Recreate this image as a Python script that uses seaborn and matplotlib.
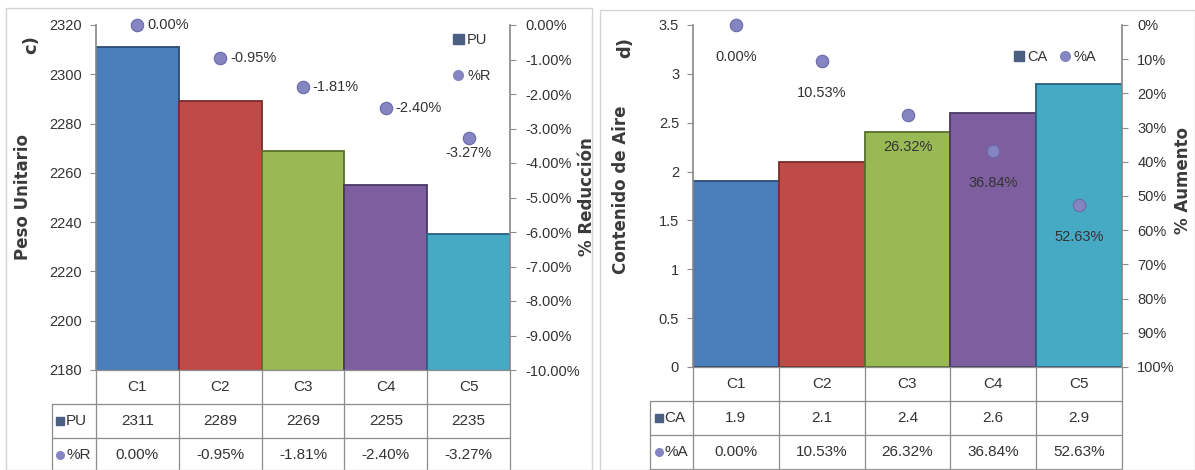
import numpy as np
import matplotlib
matplotlib.use("Agg")
import matplotlib.pyplot as plt
import seaborn as sns
from matplotlib.transforms import blended_transform_factory
from matplotlib.patches import Rectangle, Patch
from matplotlib.lines import Line2D
from matplotlib.ticker import FuncFormatter, MultipleLocator

# ---- data -------------------------------------------------------------
categorias = ["C1", "C2", "C3", "C4", "C5"]
peso_unitario = [2311, 2289, 2269, 2255, 2235]          # PU
reduccion = [0.00, -0.95, -1.81, -2.40, -3.27]          # %R
contenido_aire = [1.9, 2.1, 2.4, 2.6, 2.9]              # CA
aumento = [0.00, 10.53, 26.32, 36.84, 52.63]            # %A

# ---- style ------------------------------------------------------------
colores = ["#4A7EBB", "#BE4B48", "#98B954", "#7D5FA0", "#46AAC5"]
bordes = ["#2b4a70", "#7a2c2a", "#56702a", "#4b3866", "#2a5f80"]
color_punto = "#8585C2"
borde_punto = "#6a6aa8"
gris = "#8c8c8c"
texto = "#333333"

sns.set_theme(style="white")
plt.rcParams["font.family"] = ["Liberation Sans Narrow", "Liberation Sans", "DejaVu Sans"]
NARROW = ["Liberation Sans Narrow", "Liberation Sans", "DejaVu Sans"]
BOLD = ["DejaVu Sans"]

W, H = 1195, 470
fig = plt.figure(figsize=(W / 100, H / 100), dpi=100)
fig.patch.set_facecolor("white")


def px_axes(x0, x1, y0, y1):
    return fig.add_axes([x0 / W, (H - y1) / H, (x1 - x0) / W, (y1 - y0) / H])


def marco(x0, x1, y0, y1):
    fig.add_artist(Rectangle((x0 / W, (H - y1) / H), (x1 - x0) / W, (y1 - y0) / H,
                             transform=fig.transFigure, fill=False,
                             edgecolor="#d4d4d4", lw=1.0))


def barras(ax, valores):
    sns.barplot(x=categorias, y=valores, hue=categorias, palette=colores,
                width=1.0, legend=False, ax=ax, saturation=1, zorder=2)
    rects = sorted(ax.patches, key=lambda p: p.get_x())
    for r, ec in zip(rects, bordes):
        r.set_edgecolor(ec)
        r.set_linewidth(1.3)
    ax.set_xlim(-0.5, len(categorias) - 0.5)
    ax.set_xlabel("")
    ax.set_xticks([])
    for s in ("top", "bottom", "right"):
        ax.spines[s].set_visible(False)
    ax.spines["left"].set_color(gris)
    ax.tick_params(axis="y", left=True, length=4, width=0.8, color=gris,
                   labelsize=10.5, labelcolor=texto, pad=6)
    for t in ax.get_yticklabels():
        t.set_fontfamily(NARROW)


def tabla(ax, filas, h, x_cab):
    n = len(categorias)
    tr = blended_transform_factory(ax.transData, ax.transAxes)
    kw = dict(transform=tr, color=gris, lw=0.9, clip_on=False)
    # horizontal rules
    ax.plot([-0.5, n - 0.5], [0, 0], **kw)
    for k in range(1, 4):
        ax.plot([x_cab, n - 0.5], [-k * h, -k * h], **kw)
    # vertical rules
    for j in range(n + 1):
        ax.plot([j - 0.5, j - 0.5], [0, -3 * h], **kw)
    ax.plot([x_cab, x_cab], [-h, -3 * h], **kw)
    # category row
    for j, c in enumerate(categorias):
        ax.text(j, -0.5 * h, c, transform=tr, ha="center", va="center",
                fontsize=11, color=texto, family=NARROW)
    # data rows
    for k, (marca, mcol, nombre, vals) in enumerate(filas, start=1):
        yc = -(k + 0.5) * h
        ax.plot([x_cab + 0.1], [yc], marker=marca, ms=5.5, color=mcol,
                mec=mcol, transform=tr, clip_on=False, ls="none")
        ax.text(x_cab + 0.17, yc, nombre, transform=tr, ha="left", va="center",
                fontsize=11, color=texto, family=NARROW)
        for j, v in enumerate(vals):
            ax.text(j, yc, v, transform=tr, ha="center", va="center",
                    fontsize=11, color=texto, family=NARROW)


def puntos(ax2, valores):
    sns.scatterplot(x=np.arange(len(categorias)), y=valores, ax=ax2, s=80,
                    color=color_punto, edgecolor=borde_punto, linewidth=0.8,
                    zorder=5, legend=False)
    for c in ax2.collections:
        c.set_clip_on(False)
    ax2.set_xlim(-0.5, len(categorias) - 0.5)
    for s in ("top", "bottom", "left"):
        ax2.spines[s].set_visible(False)
    ax2.spines["right"].set_color(gris)
    ax2.tick_params(axis="y", right=True, length=4, width=0.8, color=gris,
                    labelsize=10.5, labelcolor=texto, pad=7)
    ax2.set_ylabel("")


def rotulo(x, y, s, size=12):
    fig.text(x / W, 1 - y / H, s, rotation=90, ha="center", va="center",
             fontsize=size, fontweight="bold", color="#3a3a3a", family=BOLD)


# ======================= panel c) =======================
marco(6, 592, 8, 470)
axc = px_axes(96, 510, 25, 370)
barras(axc, peso_unitario)
axc.set_ylim(2180, 2320)
axc.yaxis.set_major_locator(MultipleLocator(20))
axc.set_ylabel("")

axc2 = axc.twinx()
puntos(axc2, reduccion)
axc2.set_ylim(-10, 0)
axc2.yaxis.set_major_locator(MultipleLocator(1))
axc2.yaxis.set_major_formatter(FuncFormatter(lambda v, p: f"{v:.2f}%"))
for t in axc2.get_yticklabels():
    t.set_fontfamily(NARROW)
for i, v in enumerate(reduccion):
    if i < len(reduccion) - 1:
        axc2.annotate(f"{v:.2f}%", (i, v), xytext=(7, 0), textcoords="offset points",
                      ha="left", va="center", fontsize=10.5, color=texto, family=NARROW)
    else:
        axc2.annotate(f"{v:.2f}%", (i, v), xytext=(0, -11), textcoords="offset points",
                      ha="center", va="center", fontsize=10.5, color=texto, family=NARROW)

leg_c = axc2.legend(
    handles=[Patch(facecolor="#4a5f82", edgecolor="#4a5f82"),
             Line2D([], [], marker="o", ls="none", color=color_punto, ms=7)],
    labels=["PU", "%R"], loc="upper right", bbox_to_anchor=(0.985, 1.015),
    frameon=False, handlelength=0.7, handleheight=0.7, handletextpad=0.25,
    labelspacing=1.5, prop={"family": NARROW, "size": 10.5})
for t in leg_c.get_texts():
    t.set_color(texto)

tabla(axc, [("s", "#4a5f82", "PU", [str(v) for v in peso_unitario]),
            ("o", color_punto, "%R", [f"{v:.2f}%" for v in reduccion])],
      h=34 / 345, x_cab=-0.5 - 44 / (414 / 5))

rotulo(23, 197, "Peso Unitario")
rotulo(31, 45, "c)", 13)
rotulo(587, 197, "% Reducción")

# ======================= panel d) =======================
marco(600, 1195, 10, 470)
axd = px_axes(693, 1122, 25, 367)
barras(axd, contenido_aire)
axd.set_ylim(0, 3.5)
axd.yaxis.set_major_locator(MultipleLocator(0.5))
axd.yaxis.set_major_formatter(FuncFormatter(lambda v, p: f"{v:g}"))
axd.set_ylabel("")

axd2 = axd.twinx()
puntos(axd2, aumento)
axd2.set_ylim(100, 0)
axd2.yaxis.set_major_locator(MultipleLocator(10))
axd2.yaxis.set_major_formatter(FuncFormatter(lambda v, p: f"{v:.0f}%"))
for t in axd2.get_yticklabels():
    t.set_fontfamily(NARROW)
for i, v in enumerate(aumento):
    axd2.annotate(f"{v:.2f}%", (i, v), xytext=(0, -23), textcoords="offset points",
                  ha="center", va="center", fontsize=10.5, color=texto, family=NARROW)

leg_d = axd2.legend(
    handles=[Patch(facecolor="#4a5f82", edgecolor="#4a5f82"),
             Line2D([], [], marker="o", ls="none", color=color_punto, ms=7)],
    labels=["CA", "%A"], loc="upper right", bbox_to_anchor=(0.97, 0.965), ncol=2,
    frameon=False, handlelength=0.7, handleheight=0.7, handletextpad=0.25,
    columnspacing=0.8, prop={"family": NARROW, "size": 10.5})
for t in leg_d.get_texts():
    t.set_color(texto)

tabla(axd, [("s", "#4a5f82", "CA", [f"{v:g}" for v in contenido_aire]),
            ("o", color_punto, "%A", [f"{v:.2f}%" for v in aumento])],
      h=34 / 342, x_cab=-0.5 - 43 / (429 / 5))

rotulo(621, 190, "Contenido de Aire")
rotulo(625, 47, "d)", 13)
rotulo(1183, 180, "% Aumento")

fig.savefig("out.png", dpi=100, facecolor="white")
